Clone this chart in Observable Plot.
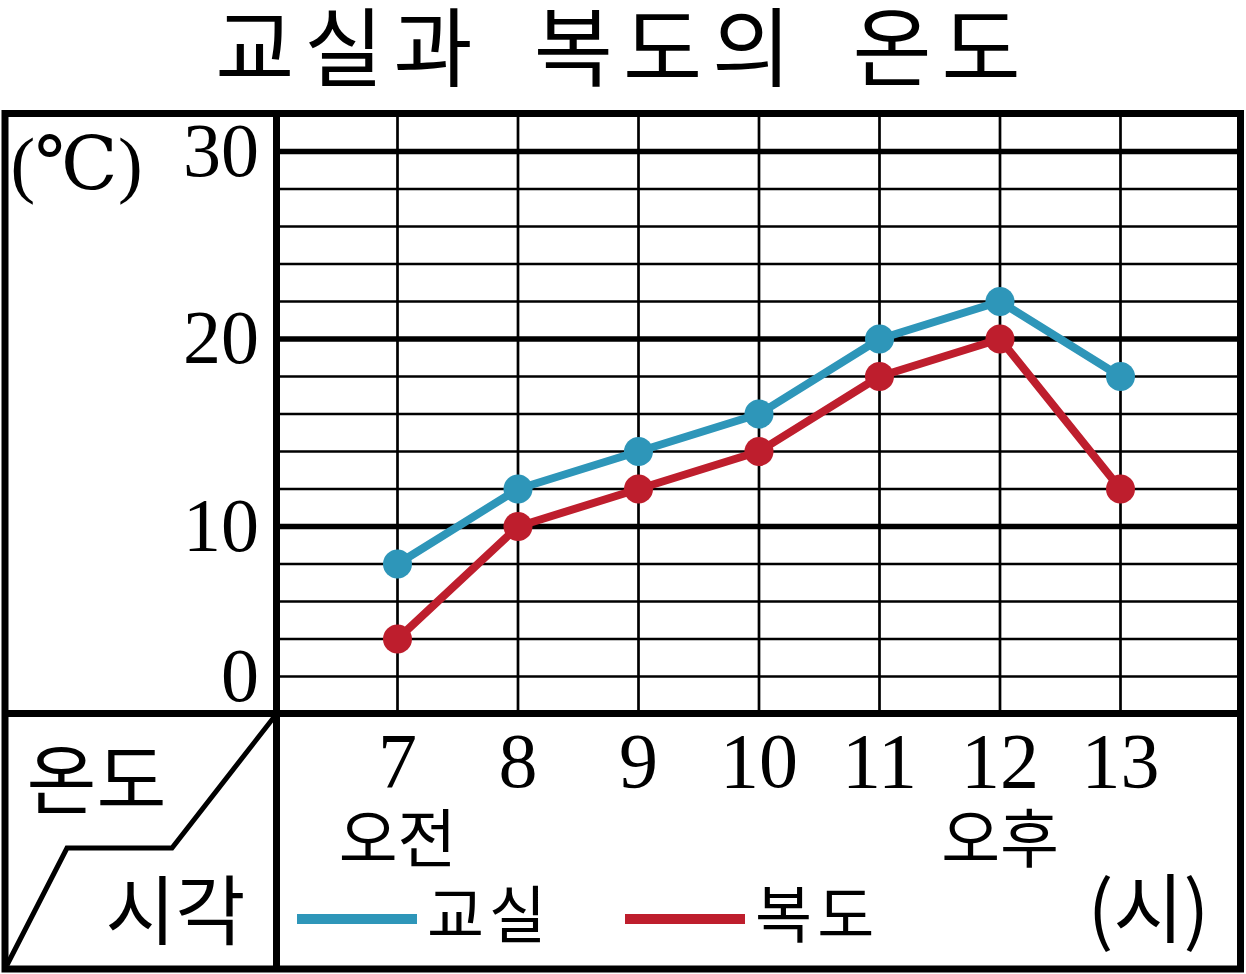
<!DOCTYPE html>
<html>
<head>
<meta charset="utf-8">
<script src="https://cdn.jsdelivr.net/npm/d3@7"></script>
<script src="https://cdn.jsdelivr.net/npm/@observablehq/plot@0.6"></script>
<style>
  body { margin: 0; background: #fff; }
  #wrap { position: relative; width: 1246px; height: 974px; overflow: hidden; }
  #title { position: absolute; left: 0; top: 2px; width: 1246px; text-align: center;
    font-family: "Noto Sans CJK KR", sans-serif; font-weight: 400; font-size: 86px; line-height: 82px;
    letter-spacing: 10px; word-spacing: 22px; color: #000; z-index: 2; }
  #legend { position: absolute; left: 297px; top: 876px; font-family: "Noto Sans CJK KR", sans-serif;
    font-size: 62px; line-height: 70px; color: #000; z-index: 2; white-space: nowrap; }
  .item { display: inline-block; margin-right: 74px; letter-spacing: 5px; }
  .sw { display: inline-block; width: 120px; height: 10px; vertical-align: middle; margin-right: 10px; position: relative; top: -2px; }
  #chart { position: absolute; left: 0; top: 0; }
</style>
</head>
<body>
<div id="wrap">
  <div id="title">교실과 복도의 온도</div>
  <div id="chart"></div>
  <div id="legend"></div>
</div>
<script>
// ---- data ----
const hours = [7, 8, 9, 10, 11, 12, 13];
const classroom = [8, 12, 14, 16, 20, 22, 18];   // 교실
const corridor = [4, 10, 12, 14, 18, 20, 12];    // 복도
const seriesNames = ["교실", "복도"];
const seriesColors = ["#2e96b9", "#be1e2d"];
const yMajorTicks = [10, 20, 30];
const yMinorTicks = [2, 4, 6, 8, 12, 14, 16, 18, 22, 24, 26, 28];
const amPmLabels = [{hour: 7, label: "오전"}, {hour: 12, label: "오후"}];

const rows = [];
hours.forEach((h, i) => {
  rows.push({hour: h, temp: classroom[i], series: seriesNames[0]});
  rows.push({hour: h, temp: corridor[i], series: seriesNames[1]});
});

const numFont = "Liberation Serif, DejaVu Serif, serif";
const korFont = "Noto Sans CJK KR, sans-serif";

// table structure (borders, divider, diagonal)
function tableFrame(index, scales, values, dims) {
  const {width, height, marginLeft, marginTop, marginRight, marginBottom} = dims;
  const L = 5, R = width - marginRight, T = marginTop, B = 969;
  const mid = height - marginBottom;
  const g = d3.create("svg:g").attr("fill", "none").attr("stroke", "#000");
  g.append("path")
    .attr("d", `M${marginLeft - 2},${mid + 3}L172,848L67,848L7,965`)
    .attr("stroke-width", 5).attr("stroke-linejoin", "miter");
  g.append("rect").attr("x", L).attr("y", T).attr("width", R - L).attr("height", B - T)
    .attr("stroke-width", 7);
  g.append("line").attr("x1", marginLeft).attr("x2", marginLeft).attr("y1", T).attr("y2", B)
    .attr("stroke-width", 7);
  g.append("line").attr("x1", L).attr("x2", R).attr("y1", mid).attr("y2", mid)
    .attr("stroke-width", 7);
  return g.node();
}

const chart = Plot.plot({
  width: 1246,
  height: 974,
  marginLeft: 276.5,
  marginRight: 5.5,
  marginTop: 113.5,
  marginBottom: 260.5,
  x: {domain: [6, 14], axis: null},
  y: {domain: [0, 32], axis: null},
  color: {domain: seriesNames, range: seriesColors},
  style: {background: "transparent"},
  marks: [
    Plot.ruleY(yMinorTicks, {stroke: "#000", strokeWidth: 2.5}),
    Plot.ruleX(hours, {stroke: "#000", strokeWidth: 2.7}),
    Plot.ruleY(yMajorTicks, {stroke: "#000", strokeWidth: 5.5}),
    Plot.axisY({ticks: yMajorTicks, tickSize: 0, tickPadding: 18, fontSize: 76,
      fontFamily: numFont, fill: "#000", label: null, textAnchor: "end", letterSpacing: 3}),
    Plot.axisY({ticks: [0], tickSize: 0, tickPadding: 18, fontSize: 76, dy: -37.5,
      fontFamily: numFont, fill: "#000", label: null, textAnchor: "end"}),
    Plot.axisX({ticks: hours, tickSize: 0, tickPadding: 18, fontSize: 78,
      fontFamily: numFont, fill: "#000", label: null, letterSpacing: 3}),
    Plot.text(amPmLabels, {x: "hour", text: "label", frameAnchor: "bottom", lineAnchor: "middle",
      dy: 128, fontSize: 64, fontFamily: korFont, fill: "#000", letterSpacing: 4}),
    Plot.text(["(시)"], {frameAnchor: "bottom-right", textAnchor: "middle", lineAnchor: "middle",
      dx: -92.5, dy: 199, fontSize: 76, fontFamily: korFont, fill: "#000"}),
    Plot.text(["(℃)"], {frameAnchor: "top-left", textAnchor: "middle", lineAnchor: "middle",
      dx: -200.5, dy: 51.5, fontSize: 74, fontFamily: numFont, fill: "#000"}),
    Plot.text(["온도"], {frameAnchor: "bottom-left", textAnchor: "middle", lineAnchor: "middle",
      dx: -180.5, dy: 70, fontSize: 76, fontFamily: korFont, fill: "#000", letterSpacing: 8}),
    Plot.text(["시각"], {frameAnchor: "bottom-left", textAnchor: "middle", lineAnchor: "middle",
      dx: -101.5, dy: 201, fontSize: 76, fontFamily: korFont, fill: "#000", letterSpacing: 8}),
    Plot.line(rows, {x: "hour", y: "temp", stroke: "series", z: "series", strokeWidth: 8}),
    Plot.dot(rows, {x: "hour", y: "temp", fill: "series", r: 14.5}),
    tableFrame
  ]
});
document.getElementById("chart").appendChild(chart);

// legend
const legend = document.getElementById("legend");
seriesNames.forEach((name, i) => {
  const item = document.createElement("span");
  item.className = "item";
  const sw = document.createElement("span");
  sw.className = "sw";
  sw.style.background = seriesColors[i];
  item.appendChild(sw);
  item.appendChild(document.createTextNode(name));
  legend.appendChild(item);
});
</script>
</body>
</html>
